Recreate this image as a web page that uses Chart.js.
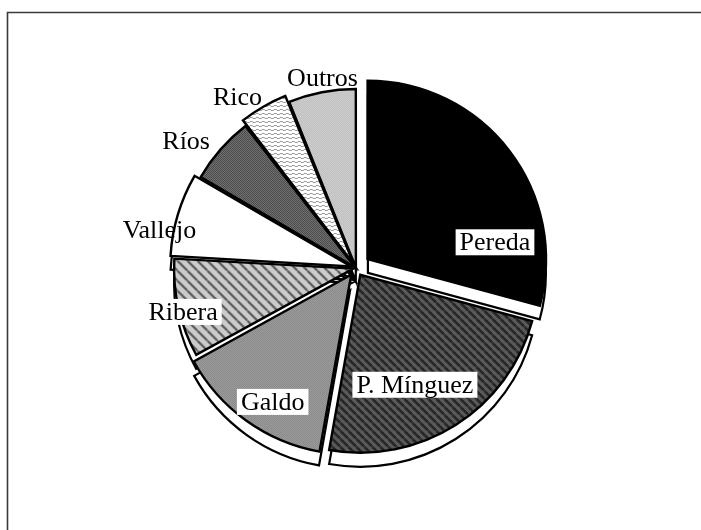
<!DOCTYPE html>
<html><head><meta charset="utf-8">
<script src="https://cdn.jsdelivr.net/npm/chart.js@4/dist/chart.umd.min.js"></script>
<style>html,body{margin:0;padding:0;background:#fff;}#wrap{width:701px;height:530px;position:relative;}</style>
</head><body><div id="wrap"><canvas id="c" width="701" height="530"></canvas></div>
<script>
// ---- data ----
const categories = ['Pereda', 'P. Mínguez', 'Galdo', 'Ribera', 'Vallejo', 'Ríos', 'Rico', 'Outros'];
const shares = [29.2, 23.6, 14.2, 8.9, 7.5, 6.1, 4.4, 6.1];

// ---- style ----
const explodePx = [15, 8, 10, 4, 8, 2, 8, 1];
const labelAngleShift = [30, 6, -4, -1.5, -6, -4.5, -5, 1];
const labelRadiusFactor = [0.72, 0.69, 0.83, 0.98, 1.08, 1.18, 1.125, 1.08];
const labelBoxed = [true, true, true, true, false, false, false, false];
const depthY = 14;

function tile(w, h, paint) {
  const c = document.createElement('canvas'); c.width = w; c.height = h;
  const g = c.getContext('2d'); paint(g, w, h);
  return document.getElementById('c').getContext('2d').createPattern(c, 'repeat');
}
function checker(g, w, h, a, b) {
  for (let y = 0; y < h; y++) for (let x = 0; x < w; x++) {
    g.fillStyle = ((x + y) % 2 === 0) ? a : b; g.fillRect(x, y, 1, 1);
  }
}
function diag(g, w, h, col, lw) {
  g.strokeStyle = col; g.lineWidth = lw;
  for (let k = -1; k <= 1; k++) {
    g.beginPath(); g.moveTo(k * w, 0); g.lineTo(k * w + w, h); g.stroke();
  }
}
const fills = [
  '#000000',
  tile(8, 8, (g, w, h) => { checker(g, w, h, '#3a3a3a', '#7a7a7a'); diag(g, w, h, '#1e1e1e', 2); }),
  tile(4, 4, (g, w, h) => { checker(g, w, h, '#666666', '#c0c0c0'); }),
  tile(10, 10, (g, w, h) => { checker(g, w, h, '#a8a8a8', '#f0f0f0'); diag(g, w, h, '#3c3c3c', 1.6); }),
  '#ffffff',
  tile(4, 4, (g, w, h) => { checker(g, w, h, '#2e2e2e', '#8e8e8e'); }),
  tile(6, 4, (g, w, h) => { g.fillStyle = '#fff'; g.fillRect(0, 0, w, h); g.fillStyle = '#9a9a9a'; g.fillRect(0, 1, 3, 1); g.fillRect(3, 2, 3, 1); }),
  tile(4, 4, (g, w, h) => { checker(g, w, h, '#9c9c9c', '#f2f2f2'); })
];

const total = shares.reduce((a, b) => a + b, 0);
function offsetFor(i) {
  const circ = shares[i] / total * Math.PI * 2;
  const fix = 1 - Math.sin(Math.min(Math.PI, circ));
  return 4 * explodePx[i] / (1 + fix);
}
function arcGeom(arc) {
  const p = arc.getProps(['x', 'y', 'startAngle', 'endAngle', 'outerRadius'], true);
  const o = (arc.options.offset || 0) / 4;
  const circ = p.endAngle - p.startAngle;
  const fix = 1 - Math.sin(Math.min(Math.PI, circ));
  const half = (p.startAngle + p.endAngle) / 2;
  const d = o + o * fix;
  return { cx: p.x + Math.cos(half) * d, cy: p.y + Math.sin(half) * d, r: p.outerRadius, s: p.startAngle, e: p.endAngle, half };
}

const framePlugin = {
  id: 'frame',
  beforeDraw(chart) {
    const ctx = chart.ctx; ctx.save();
    ctx.fillStyle = '#fff'; ctx.fillRect(0, 0, chart.width, chart.height);
    ctx.strokeStyle = '#3a3a3a'; ctx.lineWidth = 1.6;
    ctx.beginPath(); ctx.moveTo(7.5, chart.height); ctx.lineTo(7.5, 12.5); ctx.lineTo(chart.width, 12.5); ctx.stroke();
    ctx.restore();
  }
};
const depthPlugin = {
  id: 'depth',
  beforeDatasetsDraw(chart) {
    const ctx = chart.ctx; ctx.save();
    chart.getDatasetMeta(0).data.forEach(arc => {
      const g = arcGeom(arc);
      ctx.beginPath(); ctx.moveTo(g.cx, g.cy + depthY);
      ctx.arc(g.cx, g.cy + depthY, g.r, g.s, g.e); ctx.closePath();
      ctx.fillStyle = '#fff'; ctx.fill();
      ctx.strokeStyle = '#000'; ctx.lineWidth = 2.2; ctx.lineJoin = 'miter'; ctx.stroke();
    });
    ctx.restore();
  }
};
const labelPlugin = {
  id: 'sliceLabels',
  afterDatasetsDraw(chart) {
    const ctx = chart.ctx; ctx.save();
    ctx.font = '26px "Liberation Serif", "Times New Roman", serif';
    ctx.textAlign = 'center'; ctx.textBaseline = 'middle';
    chart.getDatasetMeta(0).data.forEach((arc, i) => {
      const g = arcGeom(arc);
      const a = g.half + labelAngleShift[i] * Math.PI / 180;
      const rr = g.r * labelRadiusFactor[i];
      const x = g.cx + Math.cos(a) * rr, y = g.cy + Math.sin(a) * rr;
      const t = chart.data.labels[i];
      const w = ctx.measureText(t).width;
      if (labelBoxed[i]) { ctx.fillStyle = '#fff'; ctx.fillRect(x - w / 2 - 4, y - 13, w + 8, 26); }
      ctx.fillStyle = '#000'; ctx.fillText(t, x, y + 1);
    });
    ctx.restore();
  }
};

new Chart(document.getElementById('c'), {
  type: 'pie',
  data: {
    labels: categories,
    datasets: [{
      data: shares,
      backgroundColor: fills,
      borderColor: '#000',
      borderWidth: 2.4,
      borderJoinStyle: 'miter',
      offset: (ctx) => offsetFor(ctx.dataIndex),
      hoverOffset: 0,
      radius: 178
    }]
  },
  options: {
    responsive: false,
    animation: false,
    devicePixelRatio: 1,
    layout: { padding: { left: 11, right: 0, top: 6, bottom: 0 } },
    plugins: { legend: { display: false }, tooltip: { enabled: false }, title: { display: false } },
    events: []
  },
  plugins: [framePlugin, depthPlugin, labelPlugin]
});
</script></body></html>
